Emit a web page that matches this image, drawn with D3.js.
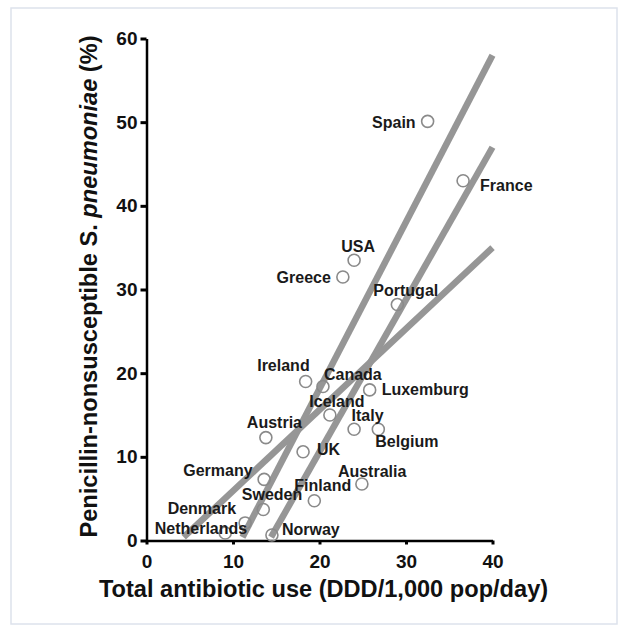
<!DOCTYPE html>
<html>
<head>
<meta charset="utf-8">
<script src="https://cdn.jsdelivr.net/npm/d3@7"></script>
<style>
  body { margin: 0; background: #fff; }
  text { font-family: "Liberation Sans", Arial, sans-serif; font-weight: bold; }
</style>
</head>
<body>
<div id="chart-area"></div>
<script>
// countries and their values (antibiotic use DDD/1,000 pop/day, % penicillin-nonsusceptible)
var countries = ['Spain', 'France', 'USA', 'Greece', 'Portugal', 'Ireland', 'Canada', 'Luxemburg',
                 'Iceland', 'Italy', 'Belgium', 'Austria', 'UK', 'Germany', 'Australia', 'Finland',
                 'Sweden', 'Denmark', 'Netherlands', 'Norway'];
var usage = [32.5, 36.6, 24.0, 22.7, 29.0, 18.4, 20.4, 25.8,
             21.2, 24.0, 26.8, 13.8, 18.1, 13.6, 24.9, 19.4,
             13.5, 11.4, 9.1, 14.5];
var resistance = [50.1, 43.0, 33.5, 31.5, 28.2, 19.0, 18.4, 18.0,
                  15.0, 13.3, 13.3, 12.3, 10.6, 7.3, 6.75, 4.75,
                  3.7, 2.1, 0.9, 0.66];

// the three grey fit lines: start on the x axis, end at x = 40
var lineStartX = [11.1, 14.4, 4.3];
var lineEndY = [58, 47, 35];

var xTicks = [0, 10, 20, 30, 40];
var yTicks = [0, 10, 20, 30, 40, 50, 60];

// label placement next to each marker: [dx, dy, anchor]
var labelPos = {
  'Spain': [-12, 6.5, 'end'], 'France': [17, 10, 'start'], 'USA': [4, -8, 'middle'],
  'Greece': [-12, 6, 'end'], 'Portugal': [-24, -9, 'start'], 'Ireland': [4, -11, 'end'],
  'Canada': [1, -6.5, 'start'], 'Luxemburg': [12, 5, 'start'], 'Iceland': [7, -8, 'middle'],
  'Italy': [-2.5, -8, 'start'], 'Belgium': [-3, 17.5, 'start'], 'Austria': [-19, -10, 'start'],
  'UK': [14, 3.5, 'start'], 'Germany': [-11.5, -3.5, 'end'], 'Australia': [-24, -7.5, 'start'],
  'Finland': [-20, -10, 'start'], 'Sweden': [-21.5, -10, 'start'], 'Denmark': [-9, -9, 'end'],
  'Netherlands': [22, 1, 'end'], 'Norway': [10, 0, 'start']
};

var W = 627, H = 634;
var svg = d3.select('#chart-area').append('svg')
  .attr('width', W).attr('height', H);

// faint frame
svg.append('rect')
  .attr('x', 11).attr('y', 8).attr('width', 606).attr('height', 616)
  .attr('fill', 'none').attr('stroke', '#dde2ec').attr('stroke-width', 1.5);

var x = d3.scaleLinear().domain([0, 40]).range([146.5, 492.5]);
var y = d3.scaleLinear().domain([0, 60]).range([540.5, 38.5]);

// fit lines
var line = d3.line().x(d => x(d[0])).y(d => y(d[1]));
lineStartX.forEach((x0, i) => {
  svg.append('path')
    .attr('d', line([[x0, 0.4], [40, lineEndY[i]]]))
    .attr('fill', 'none')
    .attr('stroke', '#969696')
    .attr('stroke-width', 6.5);
});

// axes
var xAxis = svg.append('g')
  .attr('transform', `translate(0, ${y(0)})`)
  .call(d3.axisBottom(x).tickValues(xTicks).tickSize(4).tickSizeOuter(0).tickPadding(10));
var yAxis = svg.append('g')
  .attr('transform', `translate(${x(0)}, 0)`)
  .call(d3.axisLeft(y).tickValues(yTicks).tickSize(6).tickSizeOuter(0).tickPadding(3));

[xAxis, yAxis].forEach(a => {
  a.select('.domain').attr('stroke', '#000').attr('stroke-width', 2.5);
  a.selectAll('.tick line').attr('stroke', '#000').attr('stroke-width', 3);
  a.selectAll('.tick text')
    .attr('fill', '#111')
    .style('font-size', '19px')
    .style('font-family', '"Liberation Sans", Arial, sans-serif')
    .style('font-weight', 'bold');
});

// markers
var pts = countries.map((c, i) => ({ name: c, u: usage[i], r: resistance[i] }));

svg.selectAll('circle.pt').data(pts).enter()
  .append('circle')
    .attr('class', 'pt')
    .attr('cx', d => x(d.u))
    .attr('cy', d => y(d.r))
    .attr('r', 6)
    .attr('fill', 'none')
    .attr('stroke', '#8a8a8a')
    .attr('stroke-width', 1.6);

svg.selectAll('text.lbl').data(pts).enter()
  .append('text')
    .attr('class', 'lbl')
    .attr('x', d => x(d.u) + labelPos[d.name][0])
    .attr('y', d => y(d.r) + labelPos[d.name][1])
    .attr('text-anchor', d => labelPos[d.name][2])
    .attr('font-size', '16px')
    .attr('fill', '#1a1a1a')
    .text(d => d.name);

// axis titles
svg.append('text')
  .attr('x', 323.5)
  .attr('y', 597)
  .attr('text-anchor', 'middle')
  .attr('font-size', '23.6px')
  .attr('fill', '#111')
  .text('Total antibiotic use (DDD/1,000 pop/day)');

var yTitle = svg.append('text')
  .attr('transform', 'translate(97, 286.5) rotate(-90)')
  .attr('text-anchor', 'middle')
  .attr('font-size', '23.6px')
  .attr('fill', '#111');
yTitle.append('tspan').text('Penicillin-nonsusceptible ');
yTitle.append('tspan').text('S. ');
yTitle.append('tspan').attr('font-style', 'italic').text('pneumoniae');
yTitle.append('tspan').text(' (%)');
</script>
</body>
</html>
